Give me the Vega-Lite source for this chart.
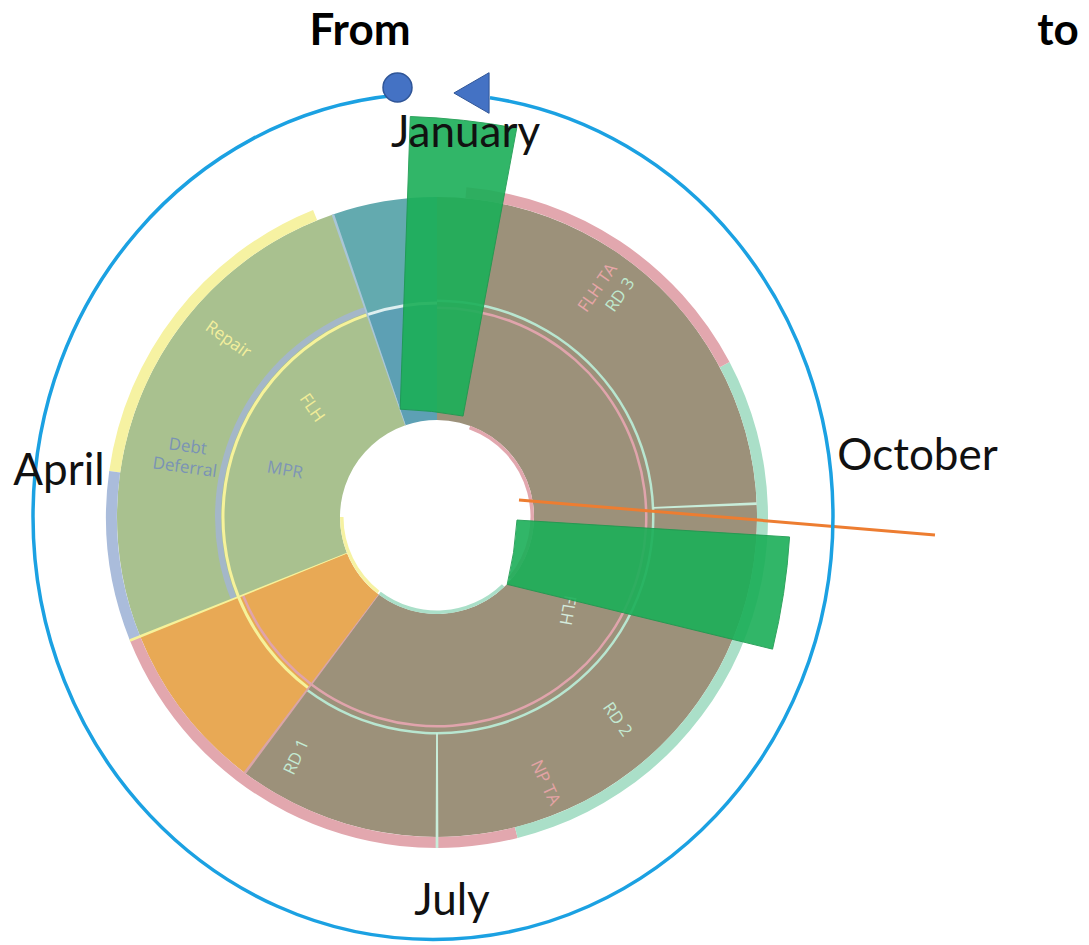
{
  "$schema": "https://vega.github.io/schema/vega-lite/v6.json",
  "width": 1089,
  "height": 945,
  "padding": 0,
  "autosize": {"type": "none"},
  "background": "white",
  "config": {"view": {"stroke": null}},
  "layer": [
    {
      "data": {"values": [
        {"part": "teal", "m0": 0, "m1": 0.633, "r0": 214, "r1": 320},
        {"part": "tealIn", "m0": 0, "m1": 0.633, "r0": 97, "r1": 214},
        {"part": "sage", "m0": 0.633, "m1": 3.73, "r0": 97, "r1": 320},
        {"part": "orange", "m0": 3.73, "m1": 4.77, "r0": 97, "r1": 320},
        {"part": "brown", "m0": 4.77, "m1": 12, "r0": 97, "r1": 320},
        {"part": "yellowBand", "m0": 0.733, "m1": 2.733, "r0": 320, "r1": 331},
        {"part": "lavBand", "m0": 2.733, "m1": 3.73, "r0": 320, "r1": 331},
        {"part": "pinkBand", "m0": 3.73, "m1": 6.47, "r0": 320, "r1": 331},
        {"part": "mintBand", "m0": 6.47, "m1": 9.93, "r0": 320, "r1": 331},
        {"part": "pinkBand", "m0": 9.93, "m1": 11.83, "r0": 320, "r1": 331},
        {"part": "steel", "m0": 0.633, "m1": 3.73, "r0": 216, "r1": 222},
        {"part": "pinkLine", "m0": 3.73, "m1": 12, "r0": 208, "r1": 210.5},
        {"part": "yellowLine", "m0": 0.633, "m1": 4.77, "r0": 212.5, "r1": 215.5},
        {"part": "whiteLine", "m0": 0, "m1": 0.633, "r0": 212.5, "r1": 215.5},
        {"part": "mintLine", "m0": 4.77, "m1": 12, "r0": 215, "r1": 217.5},
        {"part": "yellowLine", "m0": 3.722, "m1": 3.738, "r0": 97, "r1": 331},
        {"part": "pinkEdge", "m0": 4.762, "m1": 4.778, "r0": 97, "r1": 320},
        {"part": "mintEdge", "m0": 5.992, "m1": 6.008, "r0": 216, "r1": 331},
        {"part": "mintEdge", "m0": 9.072, "m1": 9.088, "r0": 216, "r1": 320},
        {"part": "tealEdge", "m0": 0.625, "m1": 0.641, "r0": 97, "r1": 320},
        {"part": "pinkBand", "m0": 7.667, "m1": 11.333, "r0": 93.5, "r1": 97},
        {"part": "mintBand", "m0": 4.767, "m1": 7.467, "r0": 93.5, "r1": 97},
        {"part": "yellowBand", "m0": 3.0, "m1": 4.733, "r0": 93.5, "r1": 97}
      ]},
      "mark": {"type": "arc"},
      "encoding": {
        "x": {"datum": 0, "type": "quantitative", "scale": {"domain": [-437, 652], "nice": false, "zero": false}, "axis": null},
        "y": {"datum": 0, "type": "quantitative", "scale": {"domain": [-428, 517], "nice": false, "zero": false}, "axis": null},
        "theta": {"field": "m0", "type": "quantitative", "stack": null, "scale": {"domain": [0, 12], "range": [6.283185307179586, 0]}},
        "theta2": {"field": "m1"},
        "radius": {"field": "r1", "type": "quantitative", "scale": {"type": "linear", "domain": [0, 472.5], "range": [0, 472.5], "zero": true, "nice": false}},
        "radius2": {"field": "r0"},
        "color": {
          "field": "part", "type": "nominal", "legend": null,
          "scale": {
            "domain": ["teal", "tealIn", "sage", "orange", "brown", "yellowBand", "lavBand", "pinkBand", "mintBand", "steel", "pinkLine", "yellowLine", "whiteLine", "mintLine", "pinkEdge", "mintEdge", "tealEdge"],
            "range": ["#63AAAF", "#5DA0B4", "#A9C18F", "#E8A955", "#9C917A", "#F6F2A2", "#AABCDB", "#E2A7AE", "#AADFC8", "#A4B7C8", "#E0A4AC", "#F6F29A", "#DDEFF0", "#B8E6D0", "#D9A5A8", "#C8EDDA", "#A9C6D6"]
          }
        }
      }
    },
    {
      "data": {"values": [{"label": "Repair", "m": 1.657, "r": 274}]},
      "mark": {"type": "text", "angle": 35, "color": "#F3EF9D", "font": "Open Sans", "fontSize": 17},
      "encoding": {
        "x": {"datum": 0, "type": "quantitative"}, "y": {"datum": 0, "type": "quantitative"},
        "theta": {"field": "m", "type": "quantitative"}, "radius": {"field": "r", "type": "quantitative"},
        "text": {"field": "label"}
      }
    },
    {
      "data": {"values": [{"label": "Debt\nDeferral", "m": 2.477, "r": 259}]},
      "mark": {"type": "text", "angle": 8, "color": "#7A93B5", "font": "Open Sans", "fontSize": 17, "lineBreak": "\n", "lineHeight": 21},
      "encoding": {
        "x": {"datum": 0, "type": "quantitative"}, "y": {"datum": 0, "type": "quantitative"},
        "theta": {"field": "m", "type": "quantitative"}, "radius": {"field": "r", "type": "quantitative"},
        "text": {"field": "label"}
      }
    },
    {
      "data": {"values": [{"label": "FLH", "m": 1.633, "r": 166}]},
      "mark": {"type": "text", "angle": 55, "color": "#F0EC98", "font": "Open Sans", "fontSize": 17},
      "encoding": {
        "x": {"datum": 0, "type": "quantitative"}, "y": {"datum": 0, "type": "quantitative"},
        "theta": {"field": "m", "type": "quantitative"}, "radius": {"field": "r", "type": "quantitative"},
        "text": {"field": "label"}
      }
    },
    {
      "data": {"values": [{"label": "MPR", "m": 2.433, "r": 159}]},
      "mark": {"type": "text", "angle": 10, "color": "#7E95B6", "font": "Open Sans", "fontSize": 17},
      "encoding": {
        "x": {"datum": 0, "type": "quantitative"}, "y": {"datum": 0, "type": "quantitative"},
        "theta": {"field": "m", "type": "quantitative"}, "radius": {"field": "r", "type": "quantitative"},
        "text": {"field": "label"}
      }
    },
    {
      "data": {"values": [{"label": "FLH TA", "m": 10.83, "r": 280}]},
      "mark": {"type": "text", "angle": 305, "color": "#E6A6A8", "font": "Open Sans", "fontSize": 17},
      "encoding": {
        "x": {"datum": 0, "type": "quantitative"}, "y": {"datum": 0, "type": "quantitative"},
        "theta": {"field": "m", "type": "quantitative"}, "radius": {"field": "r", "type": "quantitative"},
        "text": {"field": "label"}
      }
    },
    {
      "data": {"values": [{"label": "RD 3", "m": 10.68, "r": 288}]},
      "mark": {"type": "text", "angle": 305, "color": "#BFE9CF", "font": "Open Sans", "fontSize": 17},
      "encoding": {
        "x": {"datum": 0, "type": "quantitative"}, "y": {"datum": 0, "type": "quantitative"},
        "theta": {"field": "m", "type": "quantitative"}, "radius": {"field": "r", "type": "quantitative"},
        "text": {"field": "label"}
      }
    },
    {
      "data": {"values": [{"label": "RD 1", "m": 4.99, "r": 278}]},
      "mark": {"type": "text", "angle": 295, "color": "#C3E9D2", "font": "Open Sans", "fontSize": 17},
      "encoding": {
        "x": {"datum": 0, "type": "quantitative"}, "y": {"datum": 0, "type": "quantitative"},
        "theta": {"field": "m", "type": "quantitative"}, "radius": {"field": "r", "type": "quantitative"},
        "text": {"field": "label"}
      }
    },
    {
      "data": {"values": [{"label": "RD 2", "m": 7.387, "r": 271}]},
      "mark": {"type": "text", "angle": 55, "color": "#C3E9D2", "font": "Open Sans", "fontSize": 17},
      "encoding": {
        "x": {"datum": 0, "type": "quantitative"}, "y": {"datum": 0, "type": "quantitative"},
        "theta": {"field": "m", "type": "quantitative"}, "radius": {"field": "r", "type": "quantitative"},
        "text": {"field": "label"}
      }
    },
    {
      "data": {"values": [{"label": "NP TA", "m": 6.737, "r": 287}]},
      "mark": {"type": "text", "angle": 65, "color": "#E3A3A5", "font": "Open Sans", "fontSize": 17},
      "encoding": {
        "x": {"datum": 0, "type": "quantitative"}, "y": {"datum": 0, "type": "quantitative"},
        "theta": {"field": "m", "type": "quantitative"}, "radius": {"field": "r", "type": "quantitative"},
        "text": {"field": "label"}
      }
    },
    {
      "data": {"values": [{"label": "FLH", "m": 7.813, "r": 160}]},
      "mark": {"type": "text", "angle": 100, "color": "#D5EBDD", "font": "Open Sans", "fontSize": 17},
      "encoding": {
        "x": {"datum": 0, "type": "quantitative"}, "y": {"datum": 0, "type": "quantitative"},
        "theta": {"field": "m", "type": "quantitative"}, "radius": {"field": "r", "type": "quantitative"},
        "text": {"field": "label"}
      }
    },
    {
      "data": {"values": [
        {"bar": "January", "cx": -51.4, "cy": -314.5, "m0": 11.648, "m1": 11.934, "r0": 422.6, "r1": 715.4},
        {"bar": "October", "cx": -286.8, "cy": 19.7, "m0": 8.543, "m1": 8.8817, "r0": 367.5, "r1": 640.6}
      ]},
      "mark": {"type": "arc", "color": "#1BAF58", "opacity": 0.9, "stroke": "#1A9A4E", "strokeWidth": 1},
      "encoding": {
        "x": {"field": "cx", "type": "quantitative"},
        "y": {"field": "cy", "type": "quantitative"},
        "theta": {"field": "m0", "type": "quantitative", "stack": null},
        "theta2": {"field": "m1"},
        "radius": {"field": "r1", "type": "quantitative"},
        "radius2": {"field": "r0"}
      }
    },
    {
      "data": {"values": [{"x": 82, "y": 17, "x2": 498, "y2": -18}]},
      "mark": {"type": "rule", "color": "#ED7D31", "strokeWidth": 3},
      "encoding": {
        "x": {"field": "x", "type": "quantitative"},
        "y": {"field": "y", "type": "quantitative"},
        "x2": {"field": "x2"},
        "y2": {"field": "y2"}
      }
    },
    {
      "data": {"values": [{"cx": -4, "cy": 0.5}]},
      "mark": {"type": "point", "shape": "M-0.08735,-0.99572C-0.57366,-0.94801,-0.9456,-0.5165,-0.9456,0C-0.9456,0.55228,-0.52224,1,0,1C0.52224,1,0.9456,0.55228,0.9456,0C0.9456,-0.49728,0.60013,-0.91896,0.1347,-0.9898", "size": 715716, "filled": false, "stroke": "#1BA1E2", "strokeWidth": 3.5, "opacity": 1},
      "encoding": {
        "x": {"field": "cx", "type": "quantitative"},
        "y": {"field": "cy", "type": "quantitative"}
      }
    },
    {
      "data": {"values": [{"x": -39.5, "y": 429.5}]},
      "mark": {"type": "point", "shape": "circle", "size": 841, "filled": true, "color": "#4472C4", "stroke": "#2F5597", "strokeWidth": 1.5, "opacity": 1},
      "encoding": {
        "x": {"field": "x", "type": "quantitative"},
        "y": {"field": "y", "type": "quantitative"}
      }
    },
    {
      "data": {"values": [{"x": 34.5, "y": 424}]},
      "mark": {"type": "point", "shape": "triangle-left", "size": 1650, "filled": true, "color": "#4472C4", "stroke": "#2F5597", "strokeWidth": 1, "opacity": 1},
      "encoding": {
        "x": {"field": "x", "type": "quantitative"},
        "y": {"field": "y", "type": "quantitative"}
      }
    },
    {
      "data": {"values": [
        {"label": "January", "x": 28.5, "y": 370},
        {"label": "October", "x": 480.5, "y": 47},
        {"label": "July", "x": 15, "y": -398},
        {"label": "April", "x": -378, "y": 32}
      ]},
      "mark": {"type": "text", "font": "Lato", "fontSize": 44, "color": "#111111", "align": "center", "baseline": "alphabetic"},
      "encoding": {
        "x": {"field": "x", "type": "quantitative"},
        "y": {"field": "y", "type": "quantitative"},
        "text": {"field": "label"}
      }
    },
    {
      "data": {"values": [
        {"label": "From", "x": -77, "y": 472},
        {"label": "to", "x": 621, "y": 472}
      ]},
      "mark": {"type": "text", "font": "Lato", "fontSize": 44, "fontWeight": "bold", "color": "#000000", "align": "center", "baseline": "alphabetic"},
      "encoding": {
        "x": {"field": "x", "type": "quantitative"},
        "y": {"field": "y", "type": "quantitative"},
        "text": {"field": "label"}
      }
    }
  ]
}
